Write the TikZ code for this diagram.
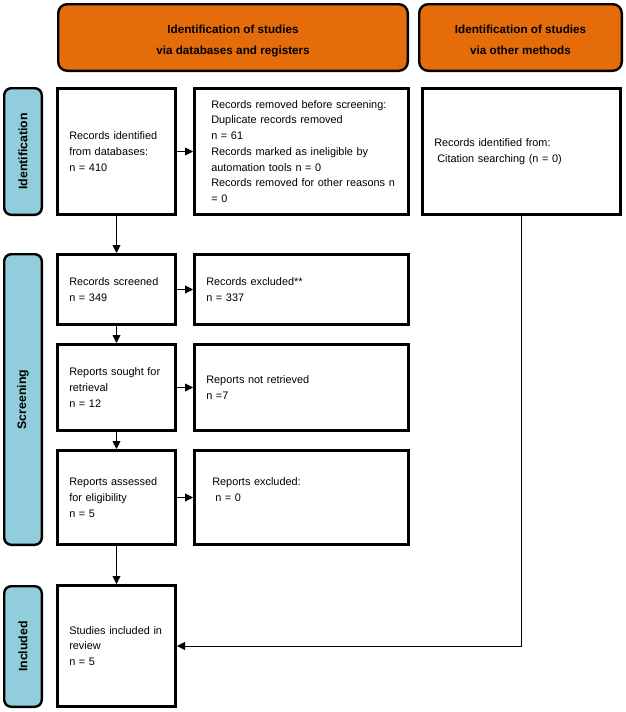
\documentclass[tikz,border=0pt]{standalone}
\usepackage{fontspec}
\setmainfont{Liberation Sans}
\usetikzlibrary{arrows.meta}
\definecolor{prismaorange}{RGB}{228,108,10}
\definecolor{prismablue}{RGB}{146,205,220}
\begin{document}
\begin{tikzpicture}[x=1pt,y=-1pt,
  head/.style={draw=black,line width=2.4pt,rounded corners=9pt,fill=prismaorange,inner sep=0,align=center,minimum height=66.6pt,text height=33pt,text depth=0pt,font=\bfseries\fontsize{11.7}{21}\selectfont},
  phase/.style={draw=black,line width=2.4pt,rounded corners=7pt,fill=prismablue,inner sep=0,minimum height=37.6pt,rotate=90,font=\bfseries\fontsize{12.3}{14}\selectfont},
  box/.style={draw=black,line width=2.6pt,fill=white,inner xsep=12pt,inner ysep=0,align=left,text width=94.4pt,font=\fontsize{10.9}{15.7}\selectfont},
  wide/.style={box,text width=190.4pt},
  arr/.style={line width=0.9pt,-{Triangle[length=8pt,width=8pt]}}]
\useasboundingbox (0,0) rectangle (626,712);
% column headers
\node[head,minimum width=349.6pt] (hdb) at (233,37.5) {Identification of studies\\via databases and registers};
\node[head,minimum width=202.6pt] (hot) at (520.5,37.5) {Identification of studies\\via other methods};
% phase bars on the left, rotated
\foreach \nm/\y/\len/\lab in {ident/151.5/126.6/Identification,screen/399.5/290.6/Screening,incl/646.5/120.6/Included}{
  \node[phase,minimum width=\len pt] (\nm) at (23,\y) {\lab};
}
% identification
\node[box,minimum height=126.4pt] (recid) at (116.5,151.5) {Records identified\\from databases:\\n = 410};
\node[wide,inner xsep=17pt,text width=180.4pt,minimum height=126.4pt] (removed) at (301.5,151.5) {Records removed before screening:\\Duplicate records removed\\n = 61\\Records marked as ineligible by\\automation tools n = 0\\\mbox{Records removed for other reasons n}\\= 0};
\node[box,text width=174.4pt,minimum height=126.4pt] (other) at (521.5,151.5) {Records identified from:\\\hspace*{3pt}Citation searching (n = 0)};
% screening
\node[box,minimum height=70.4pt] (recscr) at (116.5,289.5) {Records screened\\n = 349};
\node[wide,minimum height=70.4pt] (recexc) at (301.5,289.5) {Records excluded**\\n = 337};
\node[box,minimum height=86.4pt] (sought) at (116.5,387.5) {Reports sought for\\retrieval\\n = 12};
\node[wide,minimum height=86.4pt] (notret) at (301.5,387.5) {Reports not retrieved\\n =7};
\node[box,minimum height=94.4pt] (assess) at (116.5,497.5) {Reports assessed\\for eligibility\\n = 5};
\node[wide,inner xsep=18pt,text width=178.4pt,minimum height=94.4pt,text depth=31pt] (repexc) at (301.5,497.5) {Reports excluded:\\\hspace*{3pt}n = 0};
% included
\node[box,minimum height=121.4pt] (studies) at (116.5,646) {Studies included in\\review\\n = 5};
% connectors
\foreach \a/\b in {recid/recscr,recscr/sought,sought/assess,assess/studies}{
  \draw[arr] (\a) -- (\b);
}
\foreach \a/\b in {recid/removed,recscr/recexc,sought/notret,assess/repexc}{
  \draw[arr] (\a) -- (\b);
}
\draw[arr] (other.south) |- (studies.east);
\end{tikzpicture}
\end{document}
